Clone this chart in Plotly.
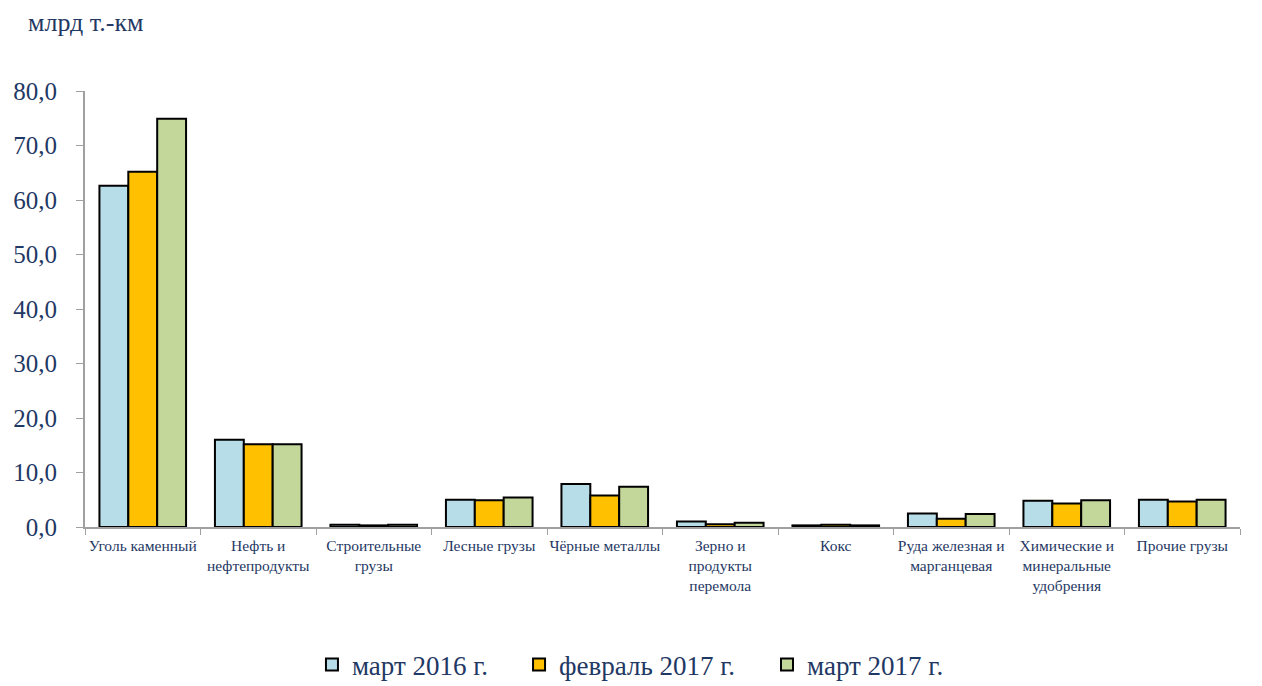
import plotly.graph_objects as go

categories = [
    "Уголь каменный",
    "Нефть и<br>нефтепродукты",
    "Строительные<br>грузы",
    "Лесные грузы",
    "Чёрные металлы",
    "Зерно и<br>продукты<br>перемола",
    "Кокс",
    "Руда железная и<br>марганцевая",
    "Химические и<br>минеральные<br>удобрения",
    "Прочие грузы",
]
mar_2016 = [62.6, 16.0, 0.4, 5.0, 7.9, 1.0, 0.3, 2.5, 4.8, 5.0]
feb_2017 = [65.2, 15.2, 0.3, 4.9, 5.8, 0.5, 0.4, 1.5, 4.3, 4.7]
mar_2017 = [74.9, 15.2, 0.4, 5.4, 7.4, 0.8, 0.3, 2.4, 4.9, 5.0]

series = [
    ("март 2016 г.", mar_2016, "#B7DEE8", "legend"),
    ("февраль 2017 г.", feb_2017, "#FFC000", "legend2"),
    ("март 2017 г.", mar_2017, "#C4D79B", "legend3"),
]

FONT = "Liberation Serif"
TEXT_COLOR = "#1F3864"
AXIS_COLOR = "#A0A0A0"

fig = go.Figure()
for name, vals, color, leg in series:
    fig.add_trace(
        go.Bar(
            x=categories,
            y=vals,
            name=name,
            legend=leg,
            showlegend=True,
            marker=dict(color=color, line=dict(color="black", width=2)),
        )
    )


def legend_box(x):
    return dict(
        orientation="h",
        x=x,
        xanchor="left",
        y=-0.3165,
        yanchor="middle",
        font=dict(size=27, color=TEXT_COLOR, family=FONT),
        itemwidth=30,
        visible=True,
    )


fig.update_layout(
    width=1262,
    height=686,
    barmode="group",
    bargap=0.25,
    bargroupgap=0,
    separators=", ",
    plot_bgcolor="white",
    paper_bgcolor="white",
    margin=dict(l=77, r=30, t=83, b=167, autoexpand=False),
    font=dict(family=FONT, color=TEXT_COLOR),
    showlegend=True,
    title=dict(
        text="млрд т.-км",
        xref="container",
        yref="container",
        x=20 / 1262,
        xanchor="left",
        y=1 - 14 / 686,
        yanchor="middle",
        font=dict(size=26, color=TEXT_COLOR, family=FONT),
    ),
    xaxis=dict(
        automargin=False,
        showline=True,
        linecolor=AXIS_COLOR,
        linewidth=2,
        ticks="outside",
        tickson="boundaries",
        ticklen=6,
        tickcolor=AXIS_COLOR,
        tickangle=0,
        ticklabelstandoff=3,
        tickfont=dict(size=15.5, color=TEXT_COLOR),
    ),
    yaxis=dict(
        automargin=False,
        range=[0, 80],
        dtick=10,
        tickformat=".1f",
        showgrid=False,
        zeroline=False,
        showline=True,
        linecolor=AXIS_COLOR,
        linewidth=2,
        ticks="outside",
        ticklen=7,
        tickcolor=AXIS_COLOR,
        ticklabelstandoff=14,
        tickfont=dict(size=25, color=TEXT_COLOR),
    ),
    legend=legend_box(0.1965),
    legend2=legend_box(0.3758),
    legend3=legend_box(0.5905),
)

fig.write_html("out.html")
